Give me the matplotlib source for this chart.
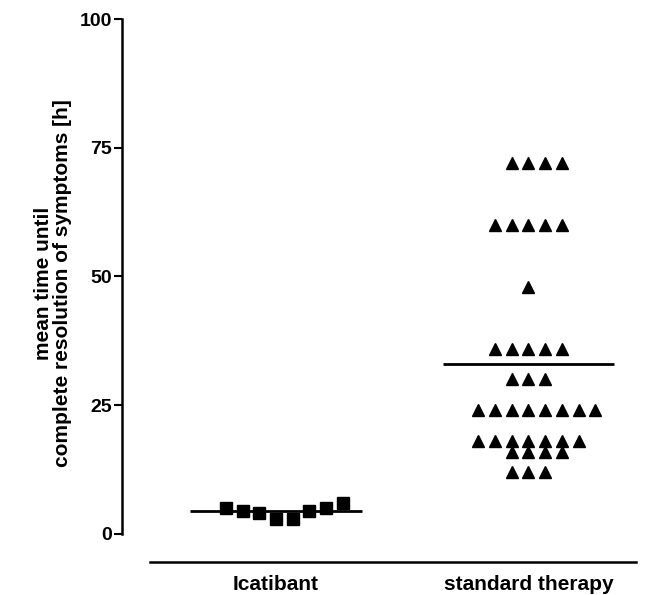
import numpy as np
import matplotlib
matplotlib.use("Agg")
import matplotlib.pyplot as plt

plt.rcParams['font.family'] = ['Liberation Sans', 'DejaVu Sans']
plt.rcParams['font.weight'] = 'bold'

# ---- data ----
categories = ["Icatibant", "standard therapy"]
icatibant = [5.0, 4.5, 4.0, 3.0, 3.0, 4.5, 5.0, 6.0]
standard_values = [72, 60, 48, 36, 30, 24, 18, 16, 12]
standard_counts = [4, 5, 1, 5, 3, 8, 7, 4, 3]
y_ticks = [0, 25, 50, 75, 100]

standard = np.repeat(standard_values, standard_counts)

# ---- layout ----
W, H = 649, 595
fig = plt.figure(figsize=(W / 100, H / 100), dpi=100)
ax = fig.add_axes([150 / W, 33 / H, 486 / W, 543 / H])

slot = 0.0661       # horizontal spacing between neighbouring points
half_line = 0.339   # half width of mean line


def row_offsets(n):
    return (np.arange(n) - (n - 1) // 2) * slot


# Icatibant: single row of points
xi = 0 + row_offsets(len(icatibant))
ax.plot(xi, icatibant, ls='none', marker='s', ms=8, color='black', clip_on=False)
m0 = np.mean(icatibant)
ax.plot([0 - half_line, 0 + half_line], [m0, m0], color='black', lw=2.0, solid_capstyle='butt')

# Standard therapy: rows of identical values
xs, ys = [], []
for v, c in zip(standard_values, standard_counts):
    xs.extend(1 + row_offsets(c))
    ys.extend([v] * c)
ax.plot(xs, ys, ls='none', marker='^', ms=9, color='black', clip_on=False)
m1 = np.mean(standard)
ax.plot([1 - half_line, 1 + half_line], [m1, m1], color='black', lw=2.0, solid_capstyle='butt')

ax.set_xlim(-0.499, 1.426)
ax.set_ylim(-5.437, 100)

for s in ['top', 'right']:
    ax.spines[s].set_visible(False)
ax.spines['left'].set_position(('outward', 28 * 72 / 100))
ax.spines['left'].set_bounds(0, 100)
ax.spines['left'].set_linewidth(1.8)
ax.spines['bottom'].set_linewidth(1.8)

ax.set_yticks(y_ticks)
ax.set_yticklabels([str(t) for t in y_ticks], fontsize=14, fontweight='bold')
ax.tick_params(axis='y', length=6, width=1.5, pad=1)

ax.set_xticks([0, 1])
ax.set_xticklabels(categories, fontsize=15, fontweight='bold')
ax.tick_params(axis='x', length=0, pad=9)

ax.set_ylabel("mean time until\ncomplete resolution of symptoms [h]",
              fontsize=15, fontweight='bold', linespacing=1.0)
ax.yaxis.set_label_coords((72 - 150) / 486, (562 - 283) / 543)

fig.savefig("out.png", dpi=100)
